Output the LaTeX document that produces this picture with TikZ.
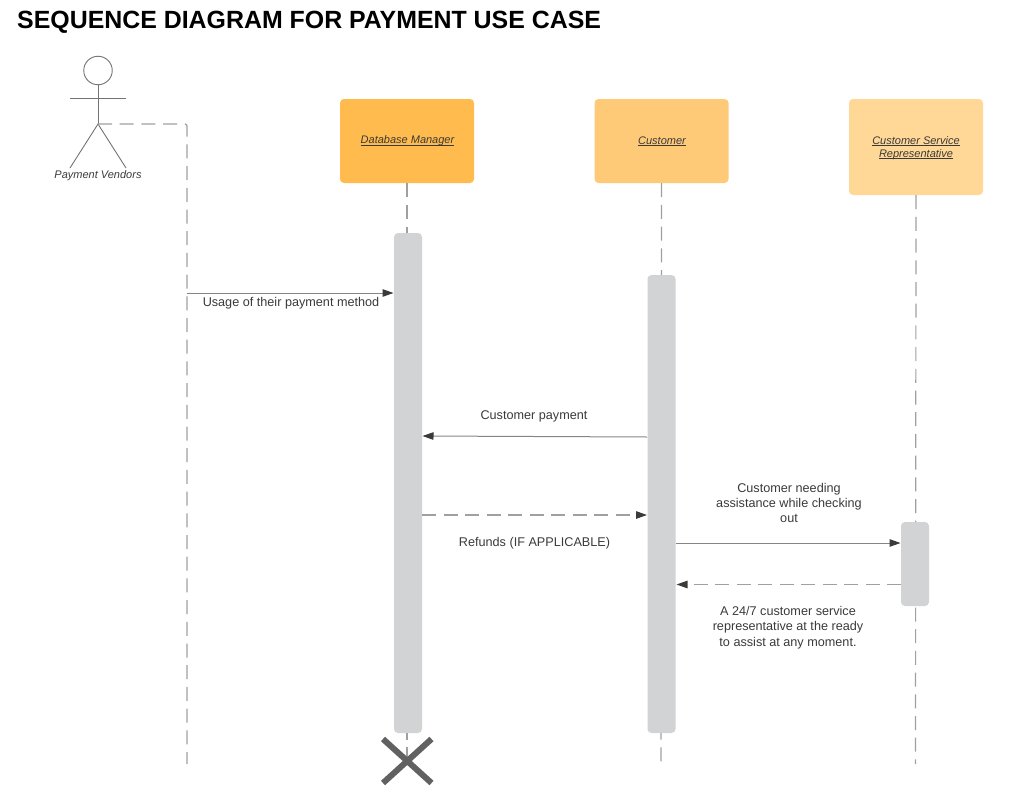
\documentclass[tikz,border=0pt]{standalone}
\usepackage{fontspec}
\setmainfont{Liberation Sans}
\usetikzlibrary{arrows.meta}
\definecolor{boxa}{HTML}{FFBB4E}
\definecolor{boxb}{HTML}{FFCA78}
\definecolor{boxc}{HTML}{FFD797}
\definecolor{barg}{HTML}{D1D3D4}
\definecolor{linec}{HTML}{A0A0A0}
\definecolor{textc}{HTML}{3A3A3A}
\newcommand{\ulbl}[1]{\setbox0=\hbox{#1}\leavevmode\rlap{\rule[-1.6pt]{\wd0}{0.6pt}}\box0 }
\tikzset{
  x=1pt,y=-1pt,
  role/.style={rounded corners=4pt,minimum width=134pt,text width=120pt,align=center,inner sep=0pt},
  bar/.style={fill=barg,rounded corners=4pt,minimum width=28pt,inner sep=0pt},
  lifeline/.style={draw=linec,line width=1.2pt,dash pattern=on 14pt off 7.7pt},
  msg/.style={draw=black!48,line width=1pt,-{Triangle[length=11pt,width=7.5pt,color=textc]}},
  retmsg/.style={msg,draw=linec,line width=1.2pt,dash pattern=on 14pt off 7.5pt},
  note/.style={text=textc,font=\fontsize{12.65}{15.4}\selectfont,align=center,inner sep=0pt},
  rolelabel/.style={text=textc,font=\fontsize{11}{13}\selectfont\itshape,align=center,inner sep=0pt},
  limb/.style={draw=black!55,line width=0.9pt},
  cross/.style={draw=black!62,line width=6pt},
}
\begin{document}
\begin{tikzpicture}
\useasboundingbox (0,0) rectangle (1025,800);
\node[anchor=west,inner sep=0pt,font=\fontsize{24.9}{28}\selectfont\bfseries] (title) at (17,22.5) {SEQUENCE DIAGRAM FOR PAYMENT USE CASE};
\node[role,fill=boxa,minimum height=84pt] (db) at (407,141) {};
\node[role,fill=boxb,minimum height=84pt] (cu) at (661.5,141) {};
\node[role,fill=boxc,minimum height=96pt] (cs) at (916,147) {};
\coordinate (dbend) at (407,764);
\coordinate (cuend) at (661,764);
\coordinate (csend) at (915.5,764);
\coordinate (pvend) at (187,764);
\coordinate (pvcorner) at (187,124);
\draw[lifeline] (db.south) -- (dbend);
\draw[lifeline] (cu.south) -- (cuend);
\draw[lifeline] (cs.south) -- (csend);
\node[rolelabel] (dbl) at (407.5,141) {\ulbl{Database Manager}};
\node[rolelabel] (cul) at (662,141) {\ulbl{Customer}};
\node[rolelabel] (csl) at (916,148) {\ulbl{Customer Service}\\\ulbl{Representative}};
\node[bar,minimum height=500pt] (dbbar) at (408,483) {};
\node[bar,minimum height=458pt] (cubar) at (661.5,504) {};
\node[bar,minimum height=84pt] (csbar) at (915,564) {};
\node[circle,draw=black!55,line width=0.9pt,minimum size=28.5pt,inner sep=0pt] (head) at (98,70.5) {};
\coordinate (hip) at (98,124);
\coordinate (handl) at (70,98);
\coordinate (handr) at (126,98);
\coordinate (footl) at (70,168);
\coordinate (footr) at (126,168);
\draw[limb] (head.south) -- (hip);
\draw[limb] (handl) -- (handr);
\draw[limb] (footl) -- (hip) -- (footr);
\node[rolelabel] (pv) at (98,176) {Payment Vendors};
\draw[lifeline,rounded corners=2pt] (hip) -- (pvcorner) -- (pvend);
\coordinate (m1a) at (187,293);
\coordinate (m1b) at (393.5,293);
\coordinate (m2a) at (647,437);
\coordinate (m2b) at (422.5,436);
\coordinate (m3a) at (422,515);
\coordinate (m3b) at (647,515);
\coordinate (m4a) at (675.5,543);
\coordinate (m4b) at (900.5,543);
\coordinate (m5a) at (901,584.5);
\coordinate (m5b) at (676.5,584.5);
\draw[msg] (m1a) -- (m1b);
\draw[msg] (m2a) -- (m2b);
\draw[retmsg] (m3a) -- (m3b);
\draw[msg] (m4a) -- (m4b);
\draw[retmsg] (m5a) -- (m5b);
\node[note] (t1) at (291,303.5) {Usage of their payment method};
\node[note] (t2) at (534,416.5) {Customer payment};
\node[note] (t3) at (534.5,543.5) {Refunds (IF APPLICABLE)};
\node[note] (t4) at (789,503) {Customer needing\\assistance while checking\\out};
\node[note] (t5) at (788,627.5) {A 24/7 customer service\\representative at the ready\\to assist at any moment.};
\coordinate (xa) at (383,739);
\coordinate (xb) at (431.5,783);
\coordinate (xc) at (431.5,739);
\coordinate (xd) at (383,783);
\draw[cross] (xa) -- (xb);
\draw[cross] (xc) -- (xd);
\end{tikzpicture}
\end{document}
